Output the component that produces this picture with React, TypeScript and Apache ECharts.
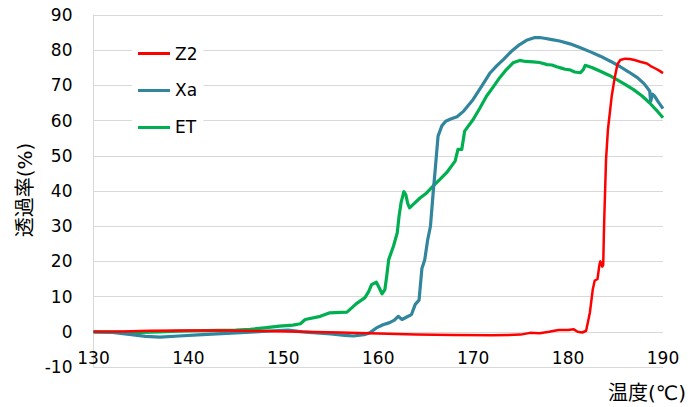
import React, { useEffect, useRef } from "react";
import * as echarts from "echarts";

const seriesNames = ["Z2", "Xa", "ET"];
const xTicks = [130, 140, 150, 160, 170, 180, 190];
const yTicks = [-10, 0, 10, 20, 30, 40, 50, 60, 70, 80, 90];

const z2Temp = [130, 133, 136, 140, 144, 148, 152, 156, 160, 164, 168, 172, 175, 176, 177, 178, 179, 180, 180.6, 181, 181.5, 181.9, 182.3, 182.6, 182.8, 183.1, 183.3, 183.4, 183.6, 183.7, 183.8, 184.0, 184.2, 184.6, 184.9, 185.2, 185.5, 186, 186.5, 187, 187.6, 188.3, 188.7, 189.2, 189.6, 190];
const z2Val = [0, 0.1, 0.3, 0.4, 0.4, 0.2, 0, -0.2, -0.5, -0.8, -0.9, -1.0, -0.8, -0.3, -0.4, 0, 0.5, 0.5, 0.7, 0, -0.2, 0.3, 5.5, 12, 14.5, 15, 19, 20, 18.5, 19, 31, 49, 57.5, 67, 72, 76, 77.2, 77.6, 77.5, 77.2, 76.7, 76.2, 75.5, 74.8, 74.2, 73.5];

const xaTemp = [130, 132, 134, 135.5, 137, 139, 141, 143, 145, 147, 149, 150.5, 152, 153.5, 155, 156.5, 157.4, 158.5, 159.1, 159.8, 160.5, 161.2, 161.7, 162.1, 162.5, 163.0, 163.5, 163.9, 164.3, 164.6, 164.9, 165.2, 165.5, 165.8, 166.0, 166.3, 166.7, 167.1, 167.7, 168.3, 169.0, 170.0, 170.9, 171.8, 172.5, 173.2, 174.0, 174.9, 175.7, 176.5, 177.0, 177.5, 178.3, 179.1, 180.2, 181.3, 182.3, 183.4, 184.5, 185.5, 186.4, 187.3, 188.0, 188.6, 188.7, 188.9, 189.1, 189.5, 190];
const xaVal = [0, -0.2, -0.8, -1.3, -1.5, -1.2, -0.9, -0.6, -0.3, 0, 0.3, 0.5, 0, -0.3, -0.6, -1.0, -1.2, -0.8, -0.3, 1.1, 2.0, 2.6, 3.3, 4.4, 3.5, 4.2, 4.9, 7.8, 9, 18, 20.5, 26, 30, 40, 46, 55.6, 58.5, 59.8, 60.5, 61.1, 62.7, 66, 69.8, 73.6, 75.6, 77.4, 79.6, 81.6, 82.9, 83.6, 83.6, 83.4, 83.0, 82.6, 81.8, 80.7, 79.6, 78.3, 76.8, 75.3, 73.8, 72.2, 70.5, 68.4, 65.5, 67.5, 67, 65.3, 63.4];

const etTemp = [130, 133, 135, 137, 139, 141, 143, 145, 146.5, 148, 149.6, 151, 151.8, 152.3, 153.9, 154.9, 156, 156.7, 157.0, 157.7, 158.6, 159.0, 159.3, 159.8, 160.1, 160.4, 160.7, 160.9, 161.1, 161.6, 162.0, 162.2, 162.4, 162.7, 162.9, 163.1, 163.3, 163.8, 164.4, 165.0, 165.8, 166.5, 167.2, 168.1, 168.4, 168.8, 169.1, 170.0, 170.7, 171.4, 172.1, 172.8, 173.5, 174.2, 174.9, 175.5, 176.3, 177.0, 177.8, 178.3, 178.8, 179.3, 179.7, 180.2, 180.7, 181.3, 181.6, 181.8, 182.5, 183.4, 184.3, 185.1, 186.0, 186.9, 187.8, 188.6, 189.3, 190];
const etVal = [0, -0.1, -0.2, 0, 0.2, 0.3, 0.4, 0.5, 0.7, 1.1, 1.6, 1.9, 2.3, 3.5, 4.4, 5.4, 5.5, 5.6, 6.3, 8.0, 9.7, 11.5, 13.4, 14.1, 12.5, 10.8, 12, 16, 20.5, 24.3, 28.1, 33, 36.6, 39.8, 39, 36.5, 35.2, 36.5, 38, 39.2, 41.5, 43.3, 45.2, 48.5, 51.8, 51.8, 57, 60.3, 63.5, 66.9, 69.5, 72.2, 74.5, 76.4, 77.1, 76.8, 76.7, 76.5, 75.9, 75.8, 75.3, 74.9, 74.6, 74.4, 73.8, 73.6, 74.5, 75.7, 75.1, 74.0, 72.9, 71.7, 70.3, 68.8, 67.0, 65.0, 63, 60.8];

const colors = ["#FF0000", "#31859C", "#00B050"];
const widths = [2.5, 3.2, 3.2];
const FONT = "'DejaVu Sans', 'Noto Sans CJK JP', sans-serif";

const zip = (xs: number[], ys: number[]) => xs.map((x, i) => [x, ys[i]]);

export default function App() {
  const ref = useRef<HTMLDivElement>(null);
  useEffect(() => {
    if (!ref.current) return;
    const chart = echarts.init(ref.current, undefined, { renderer: "svg" });
    const datasets = [zip(z2Temp, z2Val), zip(xaTemp, xaVal), zip(etTemp, etVal)];
    chart.setOption({
      animation: false,
      backgroundColor: "#fff",
      grid: { left: 93.5, right: 32, top: 15, bottom: 40, containLabel: false },
      legend: {
        orient: "vertical",
        left: 132,
        top: 39,
        padding: [6, 6, 6, 6],
        backgroundColor: "#fff",
        itemWidth: 32,
        itemHeight: 3,
        itemGap: 20,
        icon: "rect",
        data: seriesNames,
        textStyle: { fontSize: 17, color: "#000", fontFamily: FONT },
      },
      xAxis: {
        type: "value",
        min: xTicks[0],
        max: xTicks[xTicks.length - 1],
        interval: 10,
        axisLine: { show: false },
        axisTick: { show: false },
        splitLine: { show: false },
        axisLabel: { margin: -18, fontSize: 17, color: "#000", fontFamily: FONT },
      },
      yAxis: {
        type: "value",
        min: yTicks[0],
        max: yTicks[yTicks.length - 1],
        interval: 10,
        axisLine: { show: true, lineStyle: { color: "#d9d9d9", width: 1 } },
        axisTick: { show: false },
        splitLine: { show: true, lineStyle: { color: "#d9d9d9", width: 1 } },
        axisLabel: { margin: 21, fontSize: 17, color: "#000", fontFamily: FONT },
      },
      graphic: [
        {
          type: "text",
          x: 25,
          y: 190,
          rotation: Math.PI / 2,
          style: { text: "透過率(%)", fontSize: 20, fill: "#000", align: "center", verticalAlign: "middle", fontFamily: FONT },
        },
        {
          type: "text",
          x: 647,
          y: 393,
          style: { text: "温度(℃)", fontSize: 20, fill: "#000", align: "center", verticalAlign: "middle", fontFamily: FONT },
        },
      ],
      series: seriesNames.map((name, i) => ({
        name,
        type: "line",
        data: datasets[i],
        showSymbol: false,
        symbol: "none",
        lineStyle: { color: colors[i], width: widths[i], join: "round" },
        itemStyle: { color: colors[i] },
        z: i === 0 ? 4 : 3 - i + 1,
      })),
    });
    return () => chart.dispose();
  }, []);
  return <div ref={ref} style={{ position: "fixed", left: 0, top: 0, width: 695, height: 407 }} />;
}
